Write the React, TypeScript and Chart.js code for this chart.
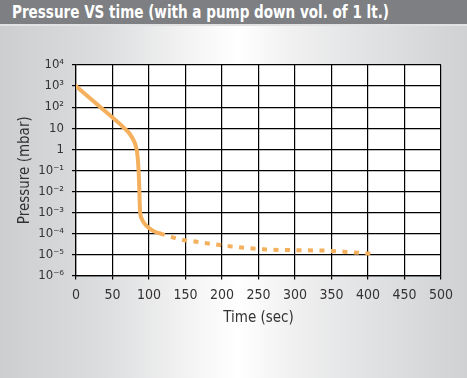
import React, { useEffect, useRef } from "react";
import { Chart, registerables } from "chart.js";

Chart.register(...registerables);

const chartTitle = "Pressure VS time (with a pump down vol. of 1 lt.)";
const xAxisTitle = "Time (sec)";
const yAxisTitle = "Pressure (mbar)";

// solid part of the curve (seconds, mbar)
const solidTime = [0, 10, 20, 30, 40, 50, 60, 66, 72, 77, 81, 83.5, 85, 86, 86.8, 87.5, 88.5, 90, 93, 97, 102, 108, 115];
const solidPressure = [1000, 500, 250, 125, 63, 32, 16, 10, 6.3, 3.5, 1.8, 0.8, 0.25, 0.063, 0.01, 0.0016, 0.0007, 0.0005, 0.00032, 0.00022, 0.00016, 0.00012, 0.0001];

// dashed part of the curve (seconds, mbar)
const dashedTime = [115, 140, 170, 200, 235, 265, 300, 345, 380, 406];
const dashedPressure = [0.0001, 0.000055, 0.000038, 0.000027, 0.00002, 0.000017, 0.000016, 0.000015, 0.0000125, 0.0000107];

const yTickValues = [1e-6, 1e-5, 1e-4, 1e-3, 1e-2, 1e-1, 1, 10, 1e2, 1e3, 1e4];
const yTickLabels = ["10⁻⁶", "10⁻⁵", "10⁻⁴", "10⁻³", "10⁻²", "10⁻¹", "1", "10", "10²", "10³", "10⁴"];

const xMin = 0;
const xMax = 500;
const xStep = 50;

const FONT = "'DejaVu Sans Condensed', 'Liberation Sans Narrow', 'DejaVu Sans', sans-serif";
const LINE_COLOR = "#f4b05c";

const whiteArea = {
  id: "whiteArea",
  beforeDraw(chart: any) {
    const { ctx, chartArea } = chart;
    ctx.save();
    ctx.fillStyle = "#ffffff";
    ctx.fillRect(chartArea.left, chartArea.top, chartArea.right - chartArea.left, chartArea.bottom - chartArea.top);
    ctx.restore();
  },
};

export default function App() {
  const canvasRef = useRef<HTMLCanvasElement | null>(null);

  useEffect(() => {
    document.body.style.margin = "0";
    const canvas = canvasRef.current;
    if (!canvas) return;
    const chart = new Chart(canvas, {
      type: "line",
      data: {
        datasets: [
          {
            data: solidTime.map((t, i) => ({ x: t, y: solidPressure[i] })),
            borderColor: LINE_COLOR,
            borderWidth: 4,
            pointRadius: 0,
            cubicInterpolationMode: "monotone",
            borderCapStyle: "round",
            fill: false,
          },
          {
            data: dashedTime.map((t, i) => ({ x: t, y: dashedPressure[i] })),
            borderColor: LINE_COLOR,
            borderWidth: 4,
            borderDash: [5, 6.5],
            pointRadius: 0,
            cubicInterpolationMode: "monotone",
            fill: false,
          },
        ],
      },
      options: {
        responsive: false,
        animation: false,
        layout: { padding: { top: 65, right: 26, bottom: 0, left: 0 } },
        plugins: { legend: { display: false }, tooltip: { enabled: false }, title: { display: false } },
        scales: {
          x: {
            type: "linear",
            min: xMin,
            max: xMax,
            ticks: { stepSize: xStep, color: "#333333", font: { family: FONT, size: 14 }, padding: 7, maxRotation: 0 },
            grid: { color: "#000000", lineWidth: 1.2, tickLength: 4 },
            border: { color: "#000000", width: 1.2 },
            title: { display: true, text: xAxisTitle, color: "#333333", font: { family: FONT, size: 15 }, padding: { top: 0, bottom: 51 } },
            afterFit: (s: any) => { s.height = 102.5; },
          },
          y: {
            type: "logarithmic",
            min: yTickValues[0],
            max: yTickValues[yTickValues.length - 1],
            afterBuildTicks: (s: any) => { s.ticks = yTickValues.map((v) => ({ value: v })); },
            ticks: {
              color: "#333333",
              font: { family: FONT, size: 13 },
              padding: 8,
              callback: (v: any) => {
                const i = yTickValues.findIndex((t) => Math.abs(Math.log10(t) - Math.log10(Number(v))) < 1e-6);
                return i >= 0 ? yTickLabels[i] : "";
              },
            },
            grid: { color: "#000000", lineWidth: 1.2, tickLength: 4 },
            border: { color: "#000000", width: 1.2 },
            title: { display: true, text: yAxisTitle, color: "#333333", font: { family: FONT, size: 15 }, padding: { top: 16, bottom: 0 } },
            afterFit: (s: any) => { s.width = 76; },
          },
        },
      },
      plugins: [whiteArea],
    } as any);
    return () => chart.destroy();
  }, []);

  return (
    <div
      style={{
        position: "fixed",
        left: 0,
        top: 0,
        width: 467,
        height: 378,
        overflow: "hidden",
        background: "linear-gradient(to right, #cdcecf 0%, #dcdddf 22%, #f3f3f3 40%, #ffffff 51%, #f1f1f1 62%, #e2e3e5 78%, #d0d1d3 100%)",
      }}
    >
      <canvas ref={canvasRef} width={467} height={378} style={{ position: "absolute", left: 0, top: 0, width: 467, height: 378 }} />
      <div
        style={{
          position: "absolute",
          left: 0,
          top: 0,
          width: 467,
          height: 24,
          background: "#7d7f82",
          borderBottom: "2px solid #e1e2e4",
        }}
      >
        <span
          style={{
            position: "absolute",
            left: 12,
            top: 0,
            color: "#ffffff",
            fontFamily: FONT,
            fontWeight: "bold",
            fontSize: 17.5,
            lineHeight: "24px",
            whiteSpace: "nowrap",
            transform: "scaleX(0.86)",
            transformOrigin: "left center",
          }}
        >
          {chartTitle}
        </span>
      </div>
    </div>
  );
}
